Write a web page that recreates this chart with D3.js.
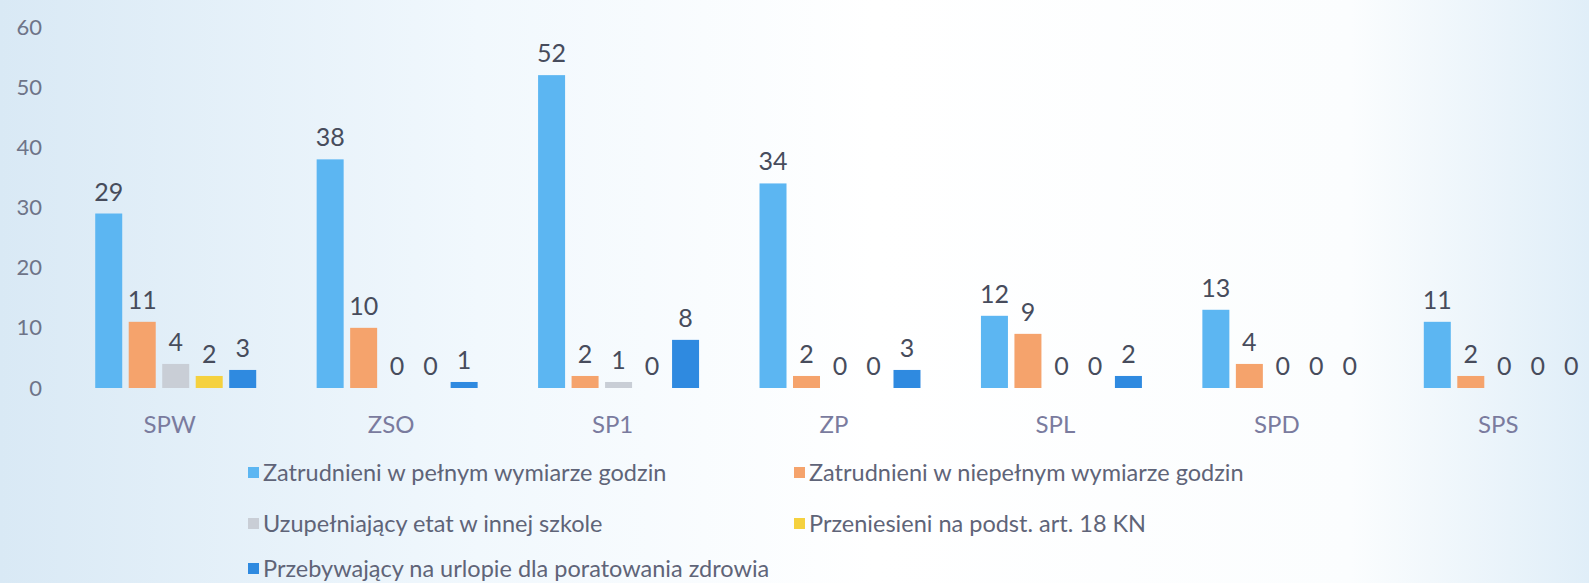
<!DOCTYPE html>
<html>
<head>
<meta charset="utf-8">
<script src="https://cdn.jsdelivr.net/npm/d3@7"></script>
<style>
  html, body { margin: 0; padding: 0; overflow: hidden; }
  svg { display: block; font-family: Lato, "Open Sans", sans-serif; }
</style>
</head>
<body>
<svg id="chart" width="1589" height="583"></svg>
<script>
const categories = ["SPW", "ZSO", "SP1", "ZP", "SPL", "SPD", "SPS"];
const seriesNames = [
  "Zatrudnieni w pełnym wymiarze godzin",
  "Zatrudnieni w niepełnym wymiarze godzin",
  "Uzupełniający etat w innej szkole",
  "Przeniesieni na podst. art. 18 KN",
  "Przebywający na urlopie dla poratowania zdrowia"
];
const pelnyWymiar = [29, 38, 52, 34, 12, 13, 11];
const niepelnyWymiar = [11, 10, 2, 2, 9, 4, 2];
const uzupelniajacy = [4, 0, 1, 0, 0, 0, 0];
const przeniesieni = [2, 0, 0, 0, 0, 0, 0];
const urlop = [3, 1, 8, 3, 2, 0, 0];
const yTicks = [0, 10, 20, 30, 40, 50, 60];
const colors = ["#5cb6f2", "#f5a36c", "#c9ced6", "#f5d13f", "#2f8ae0"];

const seriesValues = [pelnyWymiar, niepelnyWymiar, uzupelniajacy, przeniesieni, urlop];

const svg = d3.select("#chart");

// tło z delikatnym gradientem
const defs = svg.append("defs");
const grad = defs.append("linearGradient").attr("id", "bg").attr("x1", 0).attr("x2", 1).attr("y1", 0).attr("y2", 0);
grad.append("stop").attr("offset", "0%").attr("stop-color", "#d9e9f5");
grad.append("stop").attr("offset", "30%").attr("stop-color", "#f1f8fd");
grad.append("stop").attr("offset", "55%").attr("stop-color", "#ffffff");
grad.append("stop").attr("offset", "85%").attr("stop-color", "#fbfdfe");
grad.append("stop").attr("offset", "100%").attr("stop-color", "#e0eef8");
svg.append("rect").attr("width", 1589).attr("height", 583).attr("fill", "url(#bg)");

const y = d3.scaleLinear().domain([0, 60]).range([388, 27]);

const x0 = d3.scaleBand()
  .domain(categories)
  .range([65, 1615])
  .paddingInner(0.273)
  .paddingOuter(0.1365);

const x1 = d3.scaleBand()
  .domain(d3.range(seriesNames.length))
  .range([0, x0.bandwidth()])
  .paddingInner(0.194);

// oś Y
const yAxis = svg.append("g")
  .attr("transform", "translate(42,0)")
  .call(d3.axisLeft(y).tickValues(yTicks).tickSize(0).tickPadding(0));
yAxis.select(".domain").remove();
yAxis.selectAll("text")
  .attr("font-size", 22)
  .attr("font-family", "Lato, sans-serif")
  .attr("fill", "#6e7488");

// oś X
const xAxis = svg.append("g")
  .attr("transform", "translate(-6,408)")
  .call(d3.axisBottom(x0).tickSize(0).tickPadding(8));
xAxis.select(".domain").remove();
xAxis.selectAll("text")
  .attr("font-size", 24)
  .attr("font-family", "Lato, sans-serif")
  .attr("fill", "#7a7b9e");

const rows = categories.map((c, i) => ({ cat: c, values: seriesValues.map((s) => s[i]) }));

const groups = svg.append("g")
  .selectAll("g")
  .data(rows)
  .enter()
  .append("g")
  .attr("transform", (d) => `translate(${x0(d.cat)},0)`);

groups.selectAll("rect")
  .data((d) => d.values)
  .enter()
  .append("rect")
  .attr("x", (d, i) => x1(i))
  .attr("width", x1.bandwidth())
  .attr("y", (d) => y(d))
  .attr("height", (d) => y(0) - y(d))
  .attr("fill", (d, i) => colors[i]);

groups.selectAll("text")
  .data((d) => d.values)
  .enter()
  .append("text")
  .attr("x", (d, i) => x1(i) + x1.bandwidth() / 2)
  .attr("y", (d) => y(d) - 13)
  .attr("text-anchor", "middle")
  .attr("font-size", 25)
  .attr("fill", "#474c5c")
  .text((d) => d);

// legenda
const legendPos = [[258, 473], [804, 473], [258, 524], [804, 524], [258, 569]];
const legend = svg.append("g")
  .selectAll("g")
  .data(seriesNames)
  .enter()
  .append("g")
  .attr("transform", (d, i) => `translate(${legendPos[i][0]},${legendPos[i][1]})`);

legend.append("rect")
  .attr("x", -10)
  .attr("y", -6)
  .attr("width", 11)
  .attr("height", 11)
  .attr("fill", (d, i) => colors[i]);

legend.append("text")
  .attr("x", 5)
  .attr("y", 8)
  .attr("font-size", 23.5)
  .attr("fill", "#5f6478")
  .text((d) => d);
</script>
</body>
</html>
